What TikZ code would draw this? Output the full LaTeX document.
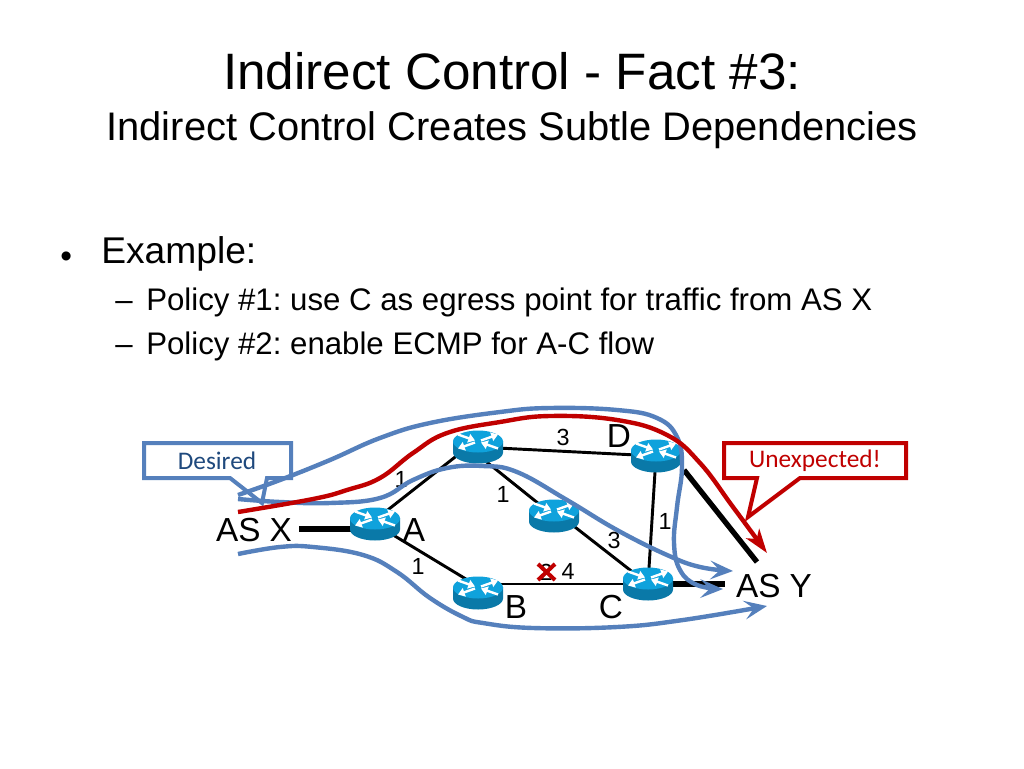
\documentclass[tikz,border=0pt]{standalone}
\usepackage{fontspec}
\setmainfont{Liberation Sans}
\newfontfamily\calloutfont{Carlito}
\usetikzlibrary{arrows.meta,calc}
\definecolor{flowblue}{HTML}{5580BC}
\definecolor{flowred}{HTML}{C00000}
\definecolor{desiredtext}{HTML}{1F497D}
\definecolor{routertop}{HTML}{0FA2DC}
\definecolor{routerside}{HTML}{0A79A8}
\newcommand{\routerart}[1]{%
  \begin{scope}[shift={(#1.center)}]
    \fill[routerside] (-25,-6) -- (-25,5.5) arc[start angle=180,end angle=0,x radius=25,y radius=11] -- (25,-6) -- cycle;
    \fill[routertop] (0,-5.5) ellipse[x radius=25,y radius=11];
    \begin{scope}[shift={(0,-5.5)},routerarrow/.style={white,line width=1.8pt,-{Stealth[length=5pt,width=6.5pt,inset=0pt]}}]
      \draw[routerarrow] (-20,-7) -- (-3,-1);
      \draw[routerarrow] (3,-1) -- (20,-7);
      \draw[routerarrow] (-3,1) -- (-20,7);
      \draw[routerarrow] (20,7) -- (3,1);
    \end{scope}
  \end{scope}}
\tikzset{
  x=0.75pt,y=-0.75pt,
  title/.style={anchor=base,inner sep=0pt,font=\fontsize{38.4}{38.4}\selectfont},
  subtitle/.style={anchor=base,inner sep=0pt,font=\fontsize{29.9}{29.9}\selectfont},
  bodytext/.style={anchor=base west,inner sep=0pt,font=\fontsize{27.9}{27.9}\selectfont},
  bulletmark/.style={anchor=base west,inner sep=0pt,font=\fontsize{25}{25}\selectfont},
  subtext/.style={anchor=base west,inner sep=0pt,font=\fontsize{23.4}{23.4}\selectfont},
  routernode/.style={minimum width=37.5pt,minimum height=25pt,inner sep=0pt},
  biglabel/.style={inner sep=0pt,font=\fontsize{25}{25}\selectfont},
  cost/.style={inner sep=0pt,font=\fontsize{17.5}{17.5}\selectfont},
  thinlink/.style={line width=2.2pt,black},
  thicklink/.style={line width=4pt,black},
  blueflow/.style={line width=3.3pt,flowblue,-{Stealth[length=17pt,width=14pt,inset=7pt]}},
  redflow/.style={line width=3.3pt,flowred,-{Stealth[length=18pt,width=12pt,inset=5pt]}},
  curvy/.style={smooth,tension=0.7},
  calloutlabel/.style={font=\calloutfont\fontsize{19}{19}\selectfont,inner sep=0pt},
}
\begin{document}
\frenchspacing
\begin{tikzpicture}
\useasboundingbox (0,0) rectangle (1024,768);
\fill[white] (0,0) rectangle (1024,768);
\node[title] (t1) at (512,89) {Indirect Control - Fact \#3:};
\node[subtitle] (t2) at (512,140) {Indirect Control Creates Subtle Dependencies};
\node[bulletmark] (bullet) at (60,267) {•};
\node[bodytext] (ex) at (101,263) {Example:};
\node[subtext] (d1) at (115,310) {–};
\node[subtext] (p1) at (146,310) {Policy \#1: use C as egress point for traffic from AS X};
\node[subtext] (d2) at (115,354) {–};
\node[subtext] (p2) at (146,354) {Policy \#2: enable ECMP for A-C flow};

\node[routernode] (A) at (375,524) {};
\node[routernode] (T) at (478,447) {};
\node[routernode] (M) at (554,516) {};
\node[routernode] (D) at (656,456) {};
\node[routernode] (B) at (478,593) {};
\node[routernode] (C) at (648,584) {};
\node[biglabel] (asx) at (254,530) {AS X};
\node[biglabel] (asy) at (774,586) {AS Y};
\coordinate (xRight) at (299,529);
\coordinate (yTop) at (757,562);
\coordinate (yLeft) at (725,584);
\coordinate (dOut) at (684,470);

\draw[thinlink] ([yshift=3pt]A.center) -- ([yshift=6pt]T.center);
\draw[thinlink] (A.center) -- ([yshift=5pt]B.center);
\draw[thinlink] ([yshift=-6pt]T.center) -- (M.center);
\draw[thinlink] (T.center) -- (D.center);
\draw[thinlink] ([yshift=4pt]M.center) -- (C.center);
\draw[thinlink] (D.center) -- (C.center);
\draw[thinlink] (B.center |- C.center) -- (C.center);
\draw[thicklink] (xRight) -- (A.center |- xRight);
\draw[thicklink] (C.center) -- (yLeft);
\draw[thicklink] (dOut) -- (yTop);
\foreach \r in {A,T,M,D,B,C}{\routerart{\r}}

\node[cost] (c1) at (401,479) {1};
\node[cost] (c2) at (503,494) {1};
\node[cost] (c3) at (563,437) {3};
\node[cost] (c4) at (665,521) {1};
\node[cost] (c5) at (614,540) {3};
\node[cost] (c6) at (418,566) {1};
\node[cost] (c7) at (568,571) {4};
\node[cost] (c8) at (546,572) {2};
\draw[flowred,line width=3pt] (538,564) -- (555,580) (555,564) -- (538,580);
\node[biglabel] (la) at (414,530) {A};
\node[biglabel] (lb) at (516,607) {B};
\node[biglabel] (lc) at (611,607) {C};
\node[biglabel] (ld) at (619,436) {D};

\draw[flowblue,line width=3pt,fill=white,-] (144,443) -- (291,443) -- (291,478) -- (267,478) -- (262,503) -- (230,478) -- (144,478) -- cycle;
\node[calloutlabel,text=desiredtext] (desired) at (217,461) {Desired};
\draw[flowred,line width=3pt,fill=white,-] (724,443) -- (906,443) -- (906,478) -- (800,478) -- (748,517) -- (757,478) -- (724,478) -- cycle;
\node[calloutlabel,text=flowred] (unexpected) at (815,461) {Unexpected!};

\coordinate (s1) at (238,554);
\coordinate (e1) at (767,606);
\coordinate (s2) at (238,499);
\coordinate (e2) at (733,571);
\coordinate (s3) at (238,495);
\coordinate (e3) at (723,589);
\coordinate (s4) at (238,512);
\coordinate (e4) at (767,553);
\draw[blueflow] plot[curvy] coordinates {(s1) (280,547) (313,547) (363,555) (397,572) (430,598) (463,617) (483,623) (533,628) (617,627) (683,620) (e1)};
\draw[blueflow] plot[curvy] coordinates {(s2) (280,502) (330,503) (380,498) (413,480) (447,468) (483,466) (517,472) (567,500) (617,530) (667,555) (700,567) (e2)};
\draw[blueflow] plot[curvy] coordinates {(s3) (280,480) (330,460) (380,438) (430,423) (500,412) (550,408) (617,410) (657,418) (677,437) (682,467) (677,507) (674,543) (680,570) (697,585) (e3)};
\draw[redflow] plot[curvy] coordinates {(s4) (313,499) (347,490) (380,478) (413,453) (447,433) (500,422) (550,416) (617,420) (667,435) (700,463) (733,507) (e4)};
\end{tikzpicture}
\end{document}
